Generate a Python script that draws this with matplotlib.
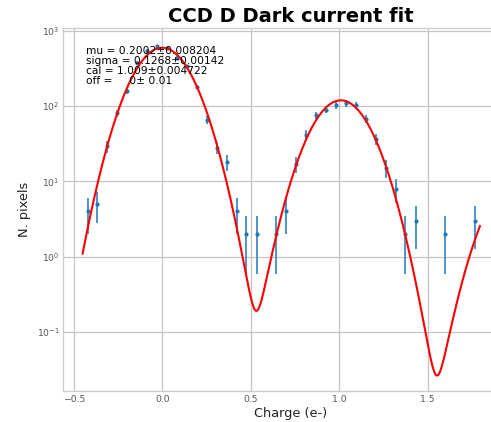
import numpy as np
import matplotlib
matplotlib.use("Agg")
import matplotlib.pyplot as plt
from math import factorial

# Histogram of pixel charge (bin centres, counts)
charge = [-0.422, -0.366, -0.310, -0.253, -0.197, -0.141, -0.085, -0.029, 0.027, 0.084,
          0.140, 0.196, 0.252, 0.308, 0.364, 0.420, 0.476, 0.533, 0.645, 0.701,
          0.757, 0.813, 0.869, 0.925, 0.982, 1.038, 1.094, 1.150, 1.206, 1.262,
          1.318, 1.374, 1.431, 1.599, 1.767]
counts = [4, 5, 29, 80, 157, 370, 540, 620, 590, 433,
          336, 179, 66, 28, 18, 4, 2, 2, 2, 4,
          17, 41, 75, 89, 102, 108, 102, 68, 36, 15,
          8, 2, 3, 2, 3]

# Fit results
mu, mu_err = 0.2002, 0.008204
sigma, sigma_err = 0.1268, 0.00142
cal, cal_err = 1.009, 0.004722
off, off_err = 0.0, 0.01
n_pixels = 4100
bin_width = 0.05615
fit_range = (-0.450, 1.795)


def dark_model(x, mu, sigma, cal, off, kmax=6):
    norm = n_pixels * bin_width / (np.sqrt(2 * np.pi) * sigma)
    total = np.zeros_like(x)
    for k in range(kmax):
        pk = np.exp(-mu) * mu**k / factorial(k)
        total += pk * np.exp(-(x - k * cal - off) ** 2 / (2 * sigma**2))
    return norm * total


plt.rcParams.update({
    "font.family": "DejaVu Sans",
    "axes.edgecolor": "#cccccc",
    "axes.linewidth": 1.0,
    "grid.color": "#c4c4c4",
    "grid.linewidth": 0.9,
    "xtick.color": "#555555",
    "ytick.color": "#555555",
    "xtick.major.size": 0,
    "ytick.major.size": 0,
    "ytick.minor.size": 0,
    "axes.labelcolor": "#222222",
})

fig = plt.figure(figsize=(4.91, 4.22), dpi=100)
ax = fig.add_axes([0.1293, 0.0742, 0.9257, 0.8602])

x = np.asarray(charge)
y = np.asarray(counts, dtype=float)
ax.errorbar(x, y, yerr=np.sqrt(y), fmt=".", color="#1f77b4", ecolor="#4a96cc",
            elinewidth=1.4, markersize=4, capsize=0, zorder=2)

xf = np.linspace(fit_range[0], fit_range[1], 600)
ax.plot(xf, dark_model(xf, mu, sigma, cal, off), color="red", lw=1.5, zorder=3)

ax.set_yscale("log")
ax.set_xlim(-0.558, 2.01)
ax.set_ylim(10**-1.782, 10**3.039)
ax.set_xticks([-0.5, 0.0, 0.5, 1.0, 1.5])
ax.tick_params(axis="both", labelsize=6.7, pad=3)
ax.grid(True, which="major")
ax.set_axisbelow(True)

ax.set_xlabel("Charge (e-)", fontsize=9.3, labelpad=2)
ax.set_ylabel("N. pixels", fontsize=9.3)
ax.set_title("CCD D Dark current fit", fontsize=14, fontweight="bold", pad=4)

info = (f"mu = {mu:.4g}\u00b1{mu_err:.4g}\n"
        f"sigma = {sigma:.4g}\u00b1{sigma_err:.4g}\n"
        f"cal = {cal:.4g}\u00b1{cal_err:.4g}\n"
        f"off = {off:5.3g}\u00b1{off_err:5.3g}")
ax.text(0.05, 0.95, info, transform=ax.transAxes, fontsize=7.7, va="top", ha="left",
        linespacing=1.0, color="black")

fig.savefig("out.png", dpi=100)
